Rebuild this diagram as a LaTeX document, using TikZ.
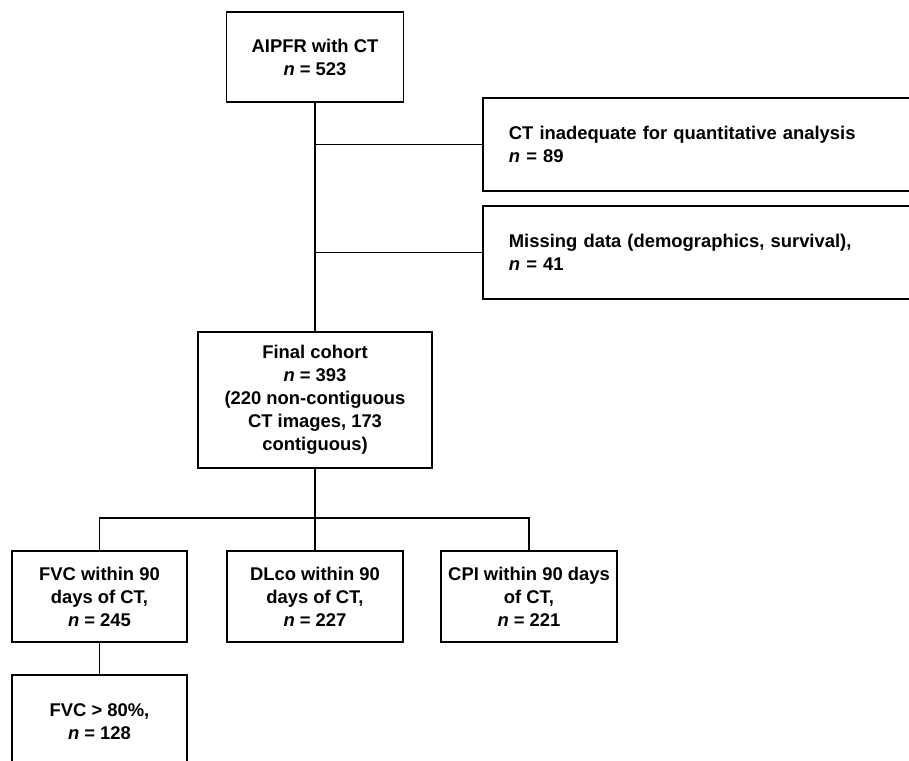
\documentclass[tikz,border=0pt]{standalone}
\usepackage{fontspec}
\setmainfont{Liberation Sans}
\usepackage{xcolor}
\usetikzlibrary{positioning, calc}

\tikzset{
    flowbox/.style={draw, line width=1.8pt, align=center, inner sep=0pt,
        font=\fontsize{18.4}{23}\selectfont\bfseries},
    sidebox/.style={flowbox, align=left, anchor=west, minimum width=450pt,
        text width=398pt, inner xsep=26pt, minimum height=93pt},
    link/.style={line width=1.5pt}
}

\begin{document}
\begin{tikzpicture}[x=1pt, y=-1pt]
        \useasboundingbox (0,0) rectangle (909,760);

        \node[flowbox, minimum width=177pt, minimum height=90pt] (start) at (315,57) {AIPFR with CT\\\textit{n} = 523};
        \node[sidebox] (ctbad) at (482,144.5) {CT inadequate for quantitative analysis\\\textit{n} = 89};
        \node[sidebox] (missing) at (482,252.5) {Missing data (demographics, survival),\\\textit{n} = 41};
        \node[flowbox, minimum width=234pt, minimum height=136pt] (cohort) at (315,400) {Final cohort\\\textit{n} = 393\\(220 non-contiguous\\CT images, 173\\contiguous)};

        \node[flowbox, minimum width=175pt, minimum height=91pt] (fvc) at (99.5,596.5) {FVC within 90\\days of CT,\\\textit{n} = 245};
        \node[flowbox, minimum width=176pt, minimum height=91pt] (dlco) at (315,596.5) {DLco within 90\\days of CT,\\\textit{n} = 227};
        \node[flowbox, minimum width=176pt, minimum height=91pt] (cpi) at (529,596.5) {CPI within 90 days\\of CT,\\\textit{n} = 221};
        \node[flowbox, minimum width=175pt, minimum height=94pt] (fvchigh) at (99.5,722) {FVC > 80\%,\\\textit{n} = 128};

        \coordinate (split) at (315,518);

        \draw[link] (start.south) -- (cohort.north);
        \draw[link] (start.south |- ctbad.west) -- (ctbad.west);
        \draw[link] (start.south |- missing.west) -- (missing.west);

        \draw[link] (cohort.south) -- (dlco.north);
        \draw[link] (fvc.north) |- (split) -| (cpi.north);
        \draw[link] (fvc.south) -- (fvchigh.north);

    \end{tikzpicture}
\end{document}
